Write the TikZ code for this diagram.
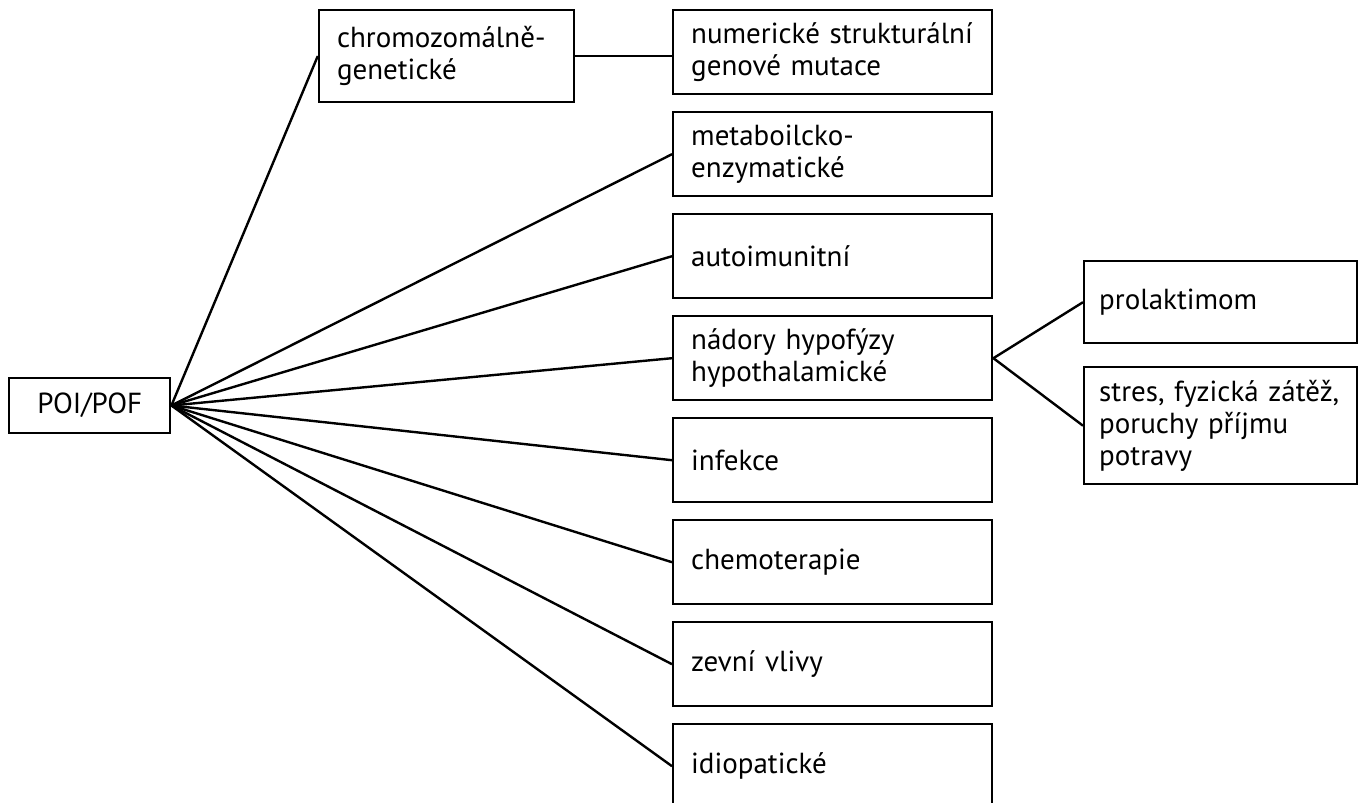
\documentclass[tikz,border=0pt]{standalone}
\usepackage{fontspec}
\setmainfont{PT Sans}
\usetikzlibrary{positioning}

\begin{document}
\begin{tikzpicture}[x=1pt, y=1pt, node distance=7.8pt, line width=1.2pt,
  font=\fontsize{14.5}{16}\selectfont,
  b/.style={draw, rectangle, align=left, inner xsep=9pt, text width=141.5pt, minimum height=42pt},
  r/.style={b, text width=121.5pt, inner xsep=7.5pt}]
\useasboundingbox (0,0) rectangle (680,-401.5);
\node[draw, minimum width=80.5pt, minimum height=27.5pt, anchor=west] (P) at (4,-202.75) {POI/POF};
\node[b, text width=109.5pt, minimum height=46pt] (C) at (223.25,-28) {chromozomálně-\\genetické};
\node[b, anchor=north west] (N) at (336,-4.5) {numerické strukturální\\genové mutace};
\node[b, below=of N] (M) {metaboilcko-\\enzymatické};
\node[b, below=of M] (A) {autoimunitní};
\node[b, below=of A] (H) {nádory hypofýzy\\hypothalamické};
\node[b, below=of H] (I) {infekce};
\node[b, below=of I] (T) {chemoterapie};
\node[b, below=of T] (Z) {zevní vlivy};
\node[b, below=of Z] (D) {idiopatické};
\node[r, anchor=north west, minimum height=41pt] (L) at (541.5,-130) {prolaktimom};
\node[r, below=10.8pt of L, minimum height=58.5pt] (S) {stres, fyzická zátěž,\\poruchy příjmu\\potravy};
\draw (P.east) -- (C.west); \draw (C.east) -- (C.east -| N.west);
\draw (P.east) -- (M.west); \draw (P.east) -- (A.west); \draw (P.east) -- (H.west);
\draw (P.east) -- (I.west); \draw (P.east) -- (T.west); \draw (P.east) -- (Z.west);
\draw (P.east) -- (D.west);
\draw (H.east) -- (L.west); \draw (H.east) -- (S.west);
\end{tikzpicture}
\end{document}
